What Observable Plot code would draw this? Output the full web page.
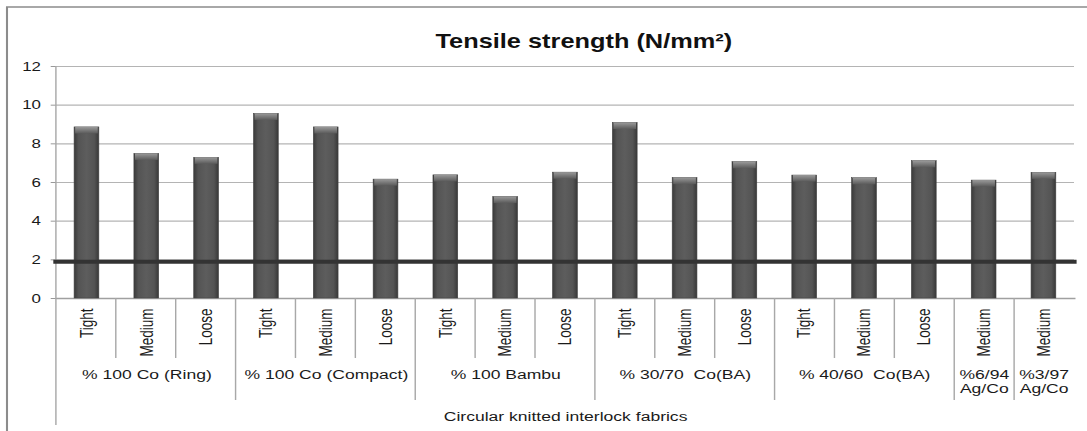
<!DOCTYPE html>
<html>
<head>
<meta charset="utf-8">
<script src="https://cdn.jsdelivr.net/npm/d3@7"></script>
<script src="https://cdn.jsdelivr.net/npm/@observablehq/plot@0.6"></script>
<style>
  html, body { margin: 0; padding: 0; background: #fff; }
  #chart { width: 1087px; height: 431px; overflow: hidden; }
</style>
</head>
<body>
<div id="chart"></div>
<script>
// ---- data ----
const categories = ["Tight","Medium","Loose","Tight","Medium","Loose","Tight","Medium","Loose","Tight","Medium","Loose","Tight","Medium","Loose","Medium","Medium"];
const values = [8.85, 7.48, 7.28, 9.55, 8.85, 6.15, 6.37, 5.25, 6.51, 9.08, 6.23, 7.05, 6.36, 6.22, 7.1, 6.1, 6.5];
const groups = ["% 100 Co (Ring)", "% 100 Co (Compact)", "% 100 Bambu", "% 30/70  Co(BA)", "% 40/60  Co(BA)", "%6/94\nAg/Co", "%3/97\nAg/Co"];
const groupSizes = [3, 3, 3, 3, 3, 1, 1];
const threshold = 1.9;
const yTicks = [0, 2, 4, 6, 8, 10, 12];
const title = "Tensile strength (N/mm²)";
const axisTitle = "Circular knitted interlock fabrics";

// ---- derived tables ----
const keys = categories.map((_, i) => String(i));
const data = categories.map((c, i) => ({key: keys[i], label: c, value: values[i]}));
const groupData = [];
const boundaryLevel = new Array(categories.length + 1).fill(1); // 1 = inner, 2 = group
{
  let start = 0;
  groups.forEach((g, gi) => {
    const n = groupSizes[gi];
    groupData.push({key: keys[start + Math.floor(n / 2)], label: g});
    boundaryLevel[start] = 2;
    start += n;
  });
  boundaryLevel[0] = 3;
}

// ---- sizing: draw at natural scale, then stretch horizontally like the reference ----
const outW = 1087, H = 431;
const W = 836; // internal width
const sx = outW / W;

const separators = (index, scales, values, dims) => {
  const ns = "http://www.w3.org/2000/svg";
  const g = document.createElementNS(ns, "g");
  const n = categories.length;
  const left = dims.marginLeft, right = dims.width - dims.marginRight;
  const step = (right - left) / n;
  const y0 = dims.height - dims.marginBottom;
  const ends = {1: y0 + 60, 2: y0 + 102, 3: y0 + 127};
  for (let i = 0; i < n; i++) {
    const x = left + i * step;
    const l = document.createElementNS(ns, "line");
    l.setAttribute("x1", x); l.setAttribute("x2", x);
    l.setAttribute("y1", i === 0 ? dims.marginTop : y0);
    l.setAttribute("y2", ends[boundaryLevel[i]]);
    l.setAttribute("stroke", "#a8a8a8");
    l.setAttribute("stroke-width", 1.1);
    g.appendChild(l);
  }
  // outer chart border (top and left)
  const bx = 7 / sx, by = 7;
  const b = document.createElementNS(ns, "path");
  b.setAttribute("d", `M${bx},${dims.height}V${by}H${dims.width}`);
  b.setAttribute("fill", "none");
  b.setAttribute("stroke", "#8c8c8c");
  b.setAttribute("stroke-width", 1.6);
  g.appendChild(b);
  return g;
};

const chart = Plot.plot({
  width: W,
  height: H,
  marginTop: 66,
  marginBottom: 133,
  marginLeft: 43,
  marginRight: 10,
  style: {fontFamily: "'Liberation Sans', Arial, sans-serif", fontSize: "13px", color: "#1a1a1a", background: "#fff"},
  x: {domain: keys, paddingInner: 0.58, paddingOuter: 0.29, axis: null},
  y: {domain: [0, 12], axis: null},
  marks: [
    Plot.gridY(yTicks, {stroke: "#b4b4b4", strokeOpacity: 1, strokeWidth: 1.2}),
    Plot.axisY(yTicks, {label: null, tickSize: 4, tickPadding: 8, stroke: "#999", fill: "#1a1a1a", fontSize: 13}),
    Plot.frame({anchor: "bottom", stroke: "#a0a0a0", strokeWidth: 1.3}),
    separators,
    Plot.barY(data, {x: "key", y: "value", fill: "url(#barGrad)", stroke: "#404040", strokeWidth: 0.5}),
    Plot.barY(data, {x: "key", y1: d => d.value - 0.34, y2: "value", fill: "url(#capGrad)", insetLeft: 0.8, insetRight: 0.8}),
    Plot.ruleY([threshold], {stroke: "#333", strokeWidth: 4, insetLeft: -2, insetRight: -2}),
    Plot.text(data, {x: "key", text: "label", frameAnchor: "bottom", rotate: -90, textAnchor: "end", lineAnchor: "middle", dy: 10, fontSize: 13.5, fill: "#1a1a1a"}),
    Plot.text(groupData, {x: "key", text: "label", frameAnchor: "bottom", lineAnchor: "top", lineHeight: 1.1, dy: 69.5, fontSize: 13.5, fill: "#1a1a1a"}),
    Plot.text([axisTitle], {frameAnchor: "bottom", lineAnchor: "middle", dy: 118, fontSize: 13.5, fill: "#1a1a1a"}),
    Plot.text([title], {frameAnchor: "top", lineAnchor: "middle", dy: -25, dx: 14, fontSize: 19.5, fontWeight: "bold", fill: "#111"})
  ]
});

// gradient definitions for the bevelled bars
const ns = "http://www.w3.org/2000/svg";
const defs = document.createElementNS(ns, "defs");
defs.innerHTML = `
  <linearGradient id="barGrad" x1="0" x2="1" y1="0" y2="0">
    <stop offset="0" stop-color="#3a3a3a"/>
    <stop offset="0.18" stop-color="#545454"/>
    <stop offset="0.5" stop-color="#5d5d5d"/>
    <stop offset="0.82" stop-color="#545454"/>
    <stop offset="1" stop-color="#383838"/>
  </linearGradient>
  <linearGradient id="capGrad" x1="0" x2="0" y1="0" y2="1">
    <stop offset="0" stop-color="#9a9a9a"/>
    <stop offset="1" stop-color="#5a5a5a"/>
  </linearGradient>`;
chart.insertBefore(defs, chart.firstChild);

// stretch horizontally to the reference width
chart.setAttribute("width", outW);
chart.setAttribute("height", H);
chart.setAttribute("preserveAspectRatio", "none");
chart.style.maxWidth = "none";
chart.style.width = outW + "px";
chart.style.height = H + "px";
chart.style.display = "block";
document.getElementById("chart").appendChild(chart);
</script>
</body>
</html>
